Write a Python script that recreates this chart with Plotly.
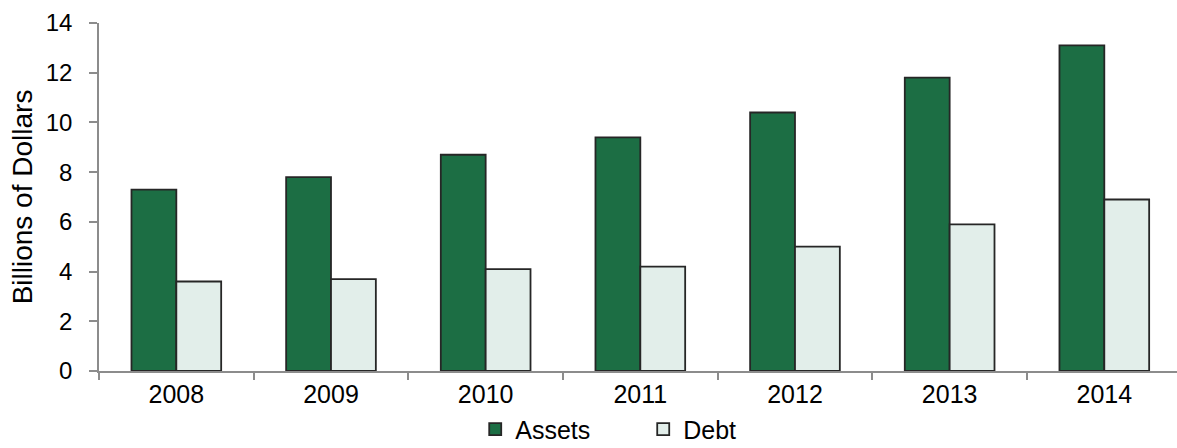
import plotly.graph_objects as go

years = ["2008", "2009", "2010", "2011", "2012", "2013", "2014"]
assets = [7.3, 7.8, 8.7, 9.4, 10.4, 11.8, 13.1]
debt = [3.6, 3.7, 4.1, 4.2, 5.0, 5.9, 6.9]

fig = go.Figure()
fig.add_trace(go.Bar(x=years, y=assets, name="Assets",
                     marker=dict(color="#1C6E44", line=dict(color="#262626", width=1.8))))
fig.add_trace(go.Bar(x=years, y=debt, name="Debt",
                     marker=dict(color="#E2EEEA", line=dict(color="#262626", width=1.8))))

fig.update_layout(
    width=1177, height=448,
    margin=dict(l=99, r=0, t=23, b=77, autoexpand=False),
    barmode="group", bargap=0.42, bargroupgap=0,
    plot_bgcolor="white", paper_bgcolor="white",
    font=dict(family="Liberation Sans, Arial, sans-serif", size=24, color="#000000"),
    legend=dict(orientation="h", x=0.349, xanchor="left", y=-0.168, yanchor="middle",
                font=dict(size=25), entrywidth=123, entrywidthmode="pixels",
                traceorder="normal", tracegroupgap=0),
    xaxis=dict(type="category", range=[-0.5, 6.47], showline=True, linecolor="#8C8C8C",
               linewidth=1.5, ticks="outside", tickson="boundaries", ticklen=7,
               tickcolor="#8C8C8C", tickwidth=1.5, showgrid=False, tickfont=dict(size=25)),
    yaxis=dict(range=[0, 14], dtick=2, showline=True, linecolor="#8C8C8C", linewidth=1.5,
               ticks="outside", ticklen=8, tickcolor="#8C8C8C", tickwidth=1.5,
               ticklabelstandoff=12,
               showgrid=False, zeroline=False, tickfont=dict(size=24),
               title=dict(text="Billions of Dollars", font=dict(size=28), standoff=5)),
)

fig.write_html("out.html")
